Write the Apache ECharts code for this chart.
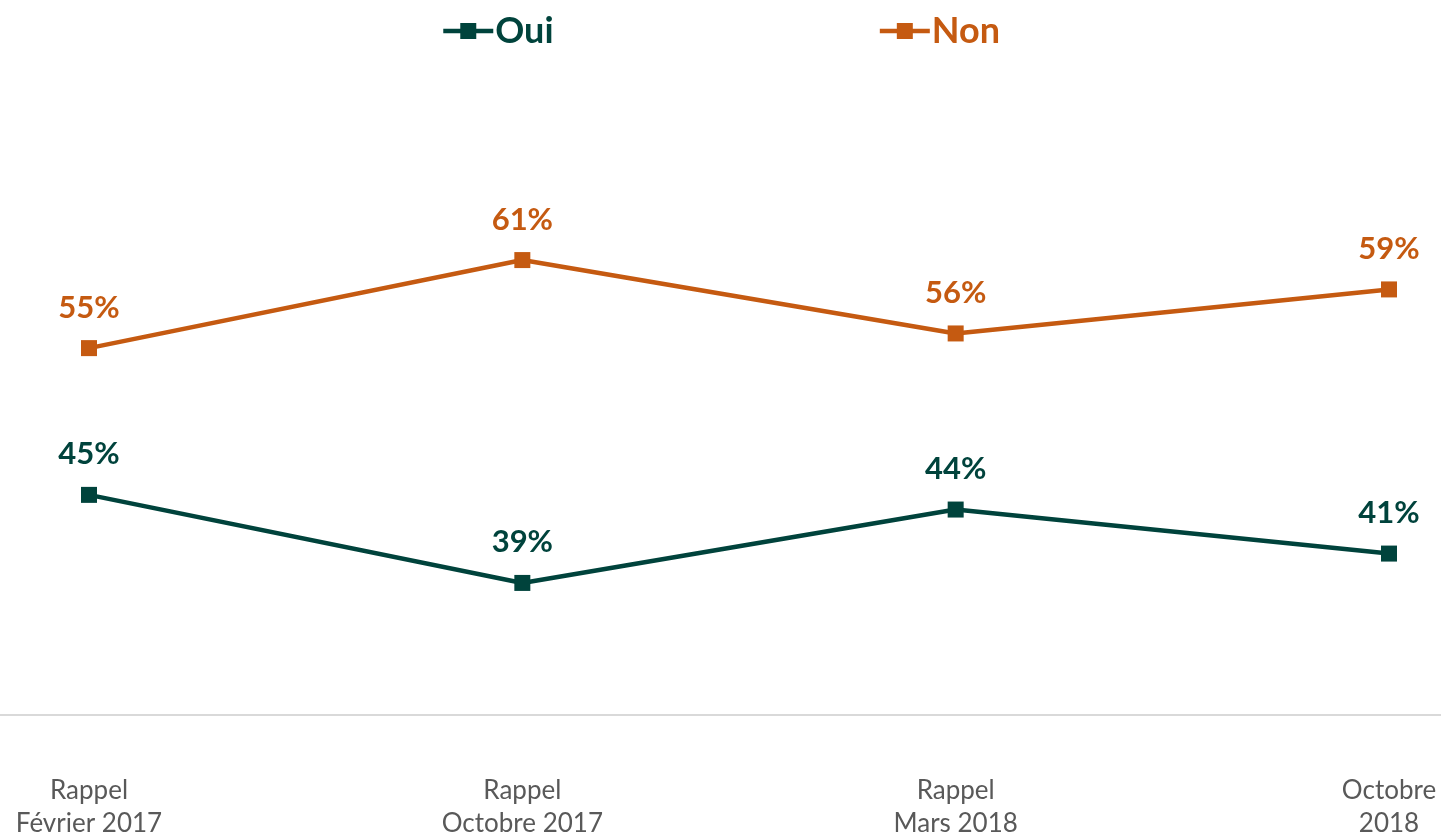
<!DOCTYPE html>
<html><head><meta charset="utf-8">
<script src="https://cdn.jsdelivr.net/npm/echarts@6/dist/echarts.min.js"></script>
<style>html,body{margin:0;padding:0;background:#fff}#c{width:1441px;height:835px}</style>
</head><body><div id="c"></div>
<script>
const categories = ['Rappel\nFévrier 2017', 'Rappel\nOctobre 2017', 'Rappel\nMars 2018', 'Octobre\n2018'];
const oui = [45, 39, 44, 41];
const non = [55, 61, 56, 59];
const seriesNames = ['Oui', 'Non'];
const colors = ['#00433C', '#C55A11'];
const font = 'Lato, "Open Sans", sans-serif';

const chart = echarts.init(document.getElementById('c'));
function mk(name, data, color) {
  return {
    name, type: 'line', data, color,
    symbol: 'rect', symbolSize: 16,
    lineStyle: { width: 4.5, color },
    itemStyle: { color },
    label: {
      show: true, position: 'top', distance: 17,
      formatter: '{c}%', color, fontSize: 31, fontWeight: 'bold', fontFamily: font
    },
    animation: false
  };
}
chart.setOption({
  animation: false,
  legend: {
    top: 8, left: 'center', itemGap: 324, itemWidth: 50, itemHeight: 20,
    lineStyle: { width: 4.5 },
    textStyle: { fontSize: 36, fontWeight: 'bold', fontFamily: font, padding: [0, 0, 0, -3] },
    data: seriesNames.map((n, i) => ({ name: n, textStyle: { color: colors[i] } }))
  },
  grid: [
    { left: 89, right: 52, top: 128, bottom: 120, outerBoundsMode: 'none', containLabel: false },
    { left: 0, right: 0, top: 128, bottom: 120, outerBoundsMode: 'none', containLabel: false }
  ],
  xAxis: [
    {
      type: 'category', data: categories, boundaryGap: false, gridIndex: 0,
      axisLine: { show: false }, axisTick: { show: false },
      axisLabel: { color: '#595959', fontSize: 26, fontFamily: font, lineHeight: 33, margin: 59, interval: 0 }
    },
    {
      type: 'category', data: categories, gridIndex: 1,
      axisLine: { show: true, lineStyle: { color: '#D9D9D9', width: 2 } },
      axisTick: { show: false }, axisLabel: { show: false }
    }
  ],
  yAxis: [
    { type: 'value', min: 30, max: 70, show: false, gridIndex: 0 },
    { type: 'value', min: 30, max: 70, show: false, gridIndex: 1 }
  ],
  series: [mk(seriesNames[0], oui, colors[0]), mk(seriesNames[1], non, colors[1])]
});
</script></body></html>
